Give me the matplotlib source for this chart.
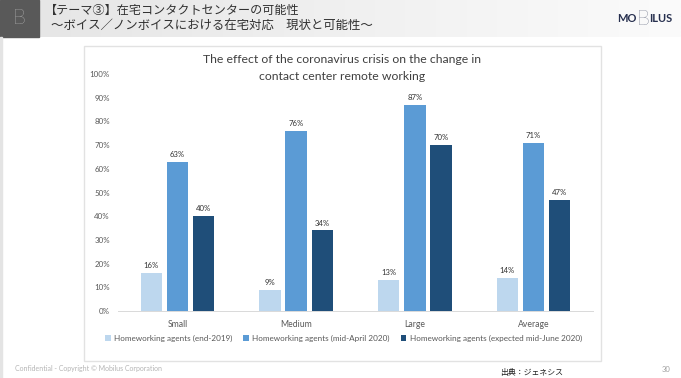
import matplotlib
matplotlib.use("Agg")
import matplotlib.pyplot as plt
from matplotlib.patches import Rectangle
from matplotlib.colors import LinearSegmentedColormap
import numpy as np

plt.rcParams['font.family'] = ['Lato', 'Noto Sans CJK JP', 'DejaVu Sans']

categories = ["Small", "Medium", "Large", "Average"]
end_2019 = [16, 9, 13, 14]
mid_april = [63, 76, 87, 71]
mid_june = [40, 34, 70, 47]
series_names = ["Homeworking agents (end-2019)",
                "Homeworking agents (mid-April 2020)",
                "Homeworking agents (expected mid-June 2020)"]
series_colors = ["#bdd7ee", "#5b9bd5", "#1f4e79"]
y_ticks = list(range(0, 101, 10))

W = 681
H = 378

fig = plt.figure(figsize=(W / 100, H / 100), dpi=100, facecolor="white")

# page layer in pixel coordinates
page = fig.add_axes([0, 0, 1, 1])
page.set_xlim(0, W)
page.set_ylim(H, 0)
page.axis("off")

# header band, fades from grey to white
fade = LinearSegmentedColormap.from_list("fade", ["#e6e6e6", "#fbfbfb"])
page.imshow(np.linspace(0, 1, 256).reshape(1, -1), extent=[39, W, 37, 0], cmap=fade,
            aspect="auto", zorder=1)
page.set_xlim(0, W)
page.set_ylim(H, 0)
page.add_patch(Rectangle((0, 0), 39, 37, color="#595959", zorder=2))
page.add_patch(Rectangle((0, 37), 1.5, H - 37, color="#e4e4e4", zorder=2))

# B logo in the dark square
page.text(19.5, 17.5, "B", color="#e6e6e6", fontsize=15, ha="center", va="center",
          family="Lato", fontweight="light", zorder=3)

page.text(45, 10.5, "【テーマ③】在宅コンタクトセンターの可能性", fontsize=8.7, color="#303030",
          family=['Noto Sans CJK JP', 'DejaVu Sans'], va="center", zorder=3)
page.text(51, 26.5, "～ボイス／ノンボイスにおける在宅対応　現状と可能性～", fontsize=8.95, color="#303030",
          family=['Noto Sans CJK JP', 'DejaVu Sans'], va="center", zorder=3)

# MOBILUS logo
page.text(636, 19, "MO", fontsize=8, fontweight="bold", color="#27304f", ha="right", va="center",
          family="Lato", zorder=3)
page.text(643, 19, "B", fontsize=15, color="#27304f", ha="center", va="center",
          family="Lato", fontweight="light", zorder=3)
page.text(649, 19, "ILUS", fontsize=8, fontweight="bold", color="#27304f", ha="left", va="center",
          family="Lato", zorder=3)

# chart card
page.add_patch(Rectangle((84, 45.5), 517, 315, facecolor="white", edgecolor="#e2e2e2", linewidth=1, zorder=2))

page.text(342, 59.5, "The effect of the coronavirus crisis on the change in", fontsize=8.85,
          color="#404040", ha="center", va="center", zorder=3)
page.text(342, 76, "contact center remote working", fontsize=8.85,
          color="#404040", ha="center", va="center", zorder=3)

# footer
page.text(15, 369, "Confidential - Copyright © Mobilus Corporation", fontsize=5.05, color="#b5b5b5",
          va="center", zorder=3)
page.text(500, 373, "出典：ジェネシス", fontsize=5.7, color="#202020", va="center",
          family=['Noto Sans CJK JP', 'DejaVu Sans'], zorder=3)
page.text(666, 369, "30", fontsize=5.5, color="#a0a0a0", ha="center", va="center", zorder=3)

# bar chart
ax = fig.add_axes([118 / W, 1 - 311 / H, 475 / W, 237 / H], facecolor="none")
ax.set_zorder(5)
x = np.arange(len(categories))
offsets = [-0.22, 0, 0.22]
all_series = [end_2019, mid_april, mid_june]
for i in range(3):
    bars = ax.bar(x + offsets[i], all_series[i], 0.18, color=series_colors[i], label=series_names[i])
    for b, v in zip(bars, all_series[i]):
        ax.text(b.get_x() + b.get_width() / 2, v + 1.6, str(v) + "%", ha="center", va="bottom",
                fontsize=5.6, color="#303030")

ax.set_xlim(-0.5, 3.5)
ax.set_ylim(0, 100)
ax.set_yticks(y_ticks)
ax.set_yticklabels([str(t) + "%" for t in y_ticks], fontsize=5.7, color="#595959")
ax.set_xticks(x)
ax.set_xticklabels(categories, fontsize=6.2, color="#595959")
ax.tick_params(length=0)
ax.tick_params(axis="x", pad=6.5)
ax.tick_params(axis="y", pad=5.8)
for s in ["top", "right", "left"]:
    ax.spines[s].set_visible(False)
ax.spines["bottom"].set_color("#d9d9d9")
ax.spines["bottom"].set_linewidth(0.7)

ax.legend(loc="upper center", bbox_to_anchor=(0.475, -0.07), ncol=3, frameon=False, fontsize=5.9,
          labelcolor="#595959", handlelength=0.7, handleheight=0.8, handletextpad=0.4, columnspacing=1.3)

fig.savefig("out.png", dpi=100)
